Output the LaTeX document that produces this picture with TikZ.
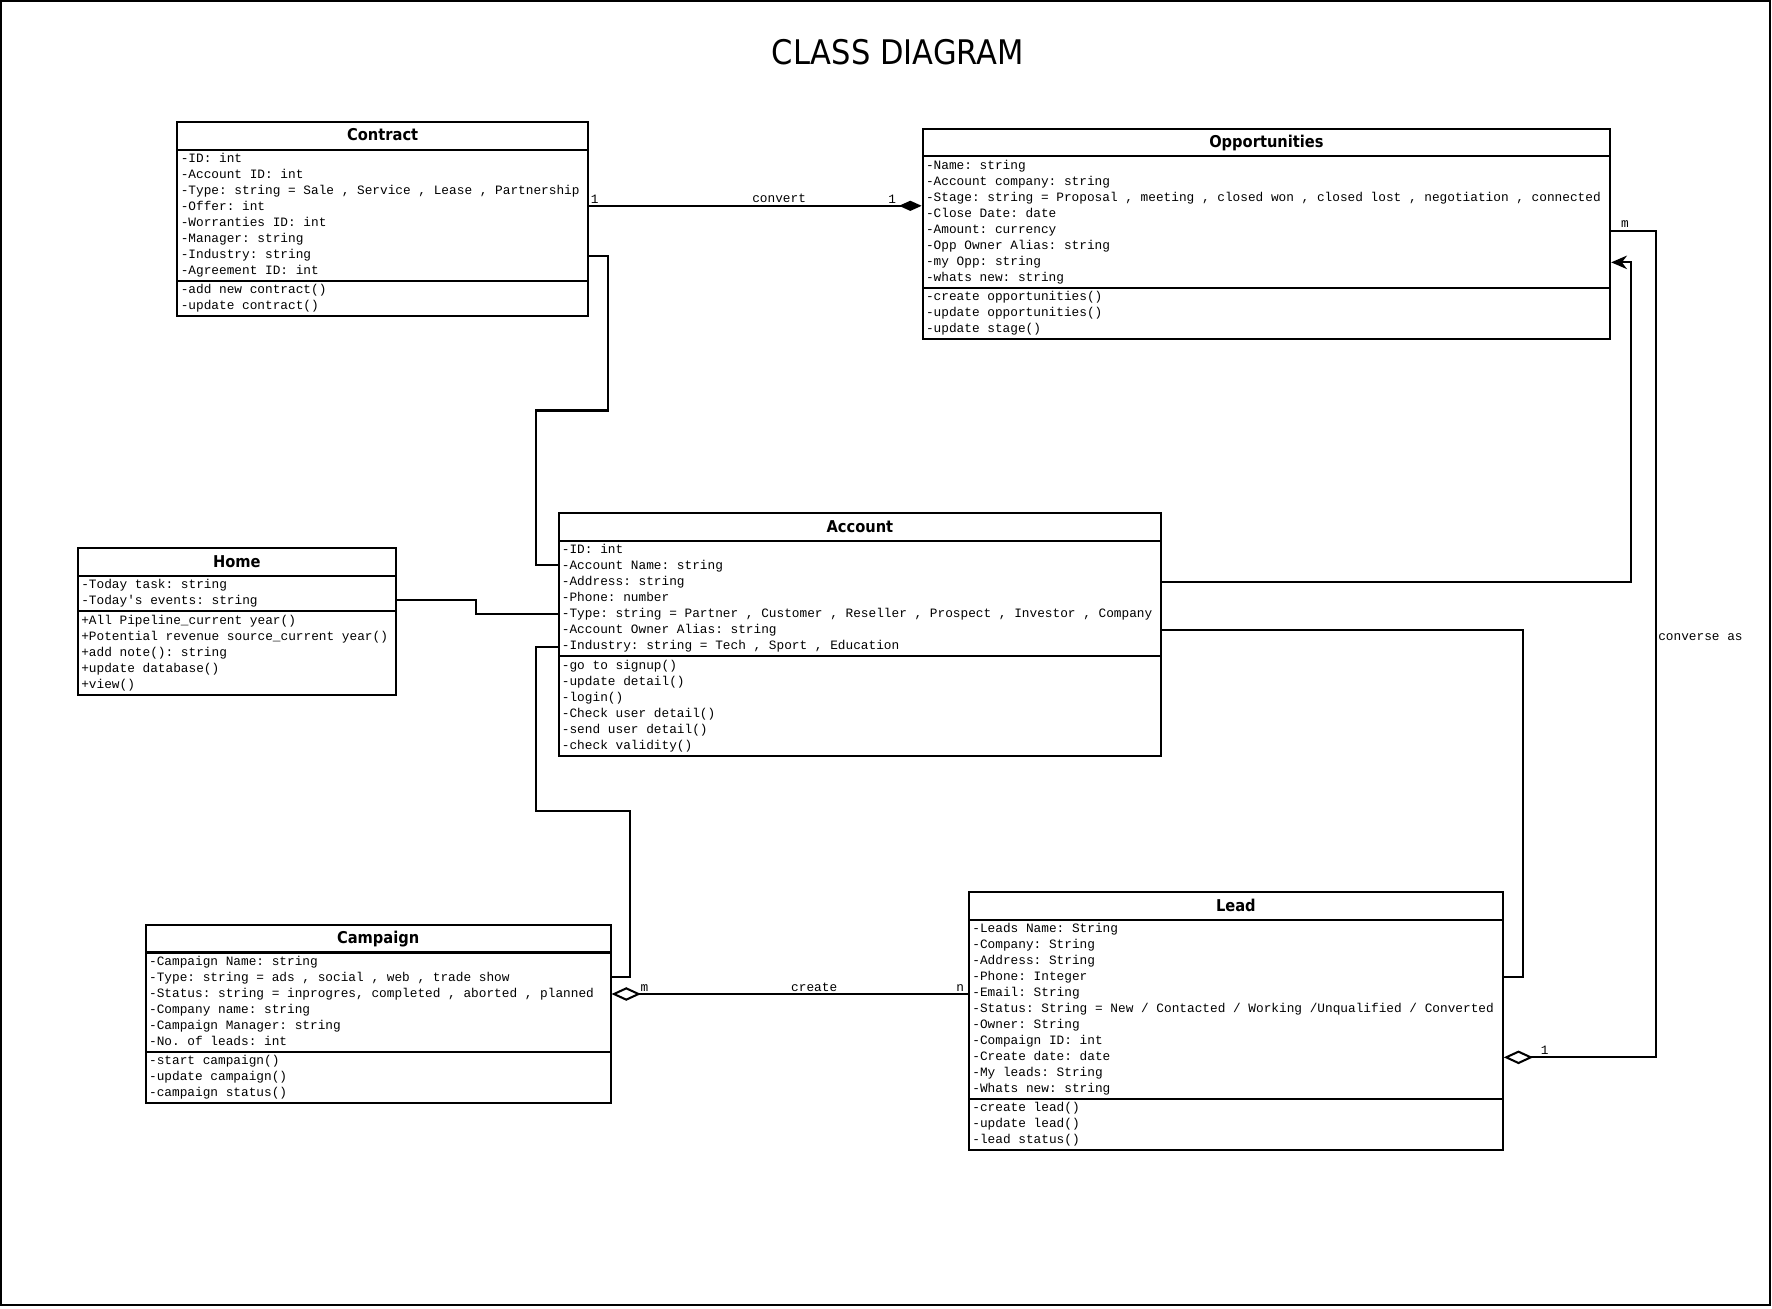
\documentclass[tikz,border=0pt]{standalone}
\usepackage{fontspec}
\setmainfont{DejaVu Sans Condensed}
\newfontfamily\attrfont{Liberation Mono}
\usetikzlibrary{shapes.multipart}
\usetikzlibrary{arrows.meta}

\newcommand{\clshead}[1]{\noindent\makebox[\linewidth]{\rule[-3.1pt]{0pt}{10.7pt}\rmfamily\bfseries\fontsize{7.2}{8}\selectfont #1}}
\newcommand{\mems}{\spaceskip=0.6em\xspaceskip=0.6em\relax\strut}

\tikzset{
  umlclass/.style={draw, line width=0.9pt, rectangle split, rectangle split parts=3,
    text width=#1, inner xsep=1.5pt, inner ysep=0.3pt, anchor=north west,
    font=\attrfont\fontsize{5.65}{7.07}\selectfont},
  conn/.style={line width=0.9pt},
  lbl/.style={font=\attrfont\fontsize{5.65}{7.07}\selectfont, inner sep=1pt},
}

\begin{document}
\begin{tikzpicture}[x=0.5pt, y=-0.5pt]
  \useasboundingbox (0,0) rectangle (1567,1157);
  \draw[line width=0.8pt] (1,1) rectangle (1565,1154);

  \node[font=\fontsize{15}{18}\selectfont] (title) at (794,46) {CLASS DIAGRAM};

  % classes
  \node[umlclass=178.5pt] (contract) at (156,107) {\clshead{Contract}
    \nodepart{two}\mems-ID: int\\
    -Account ID: int\\
    -Type: string = Sale , Service , Lease , Partnership\\
    -Offer: int\\
    -Worranties ID: int\\
    -Manager: string\\
    -Industry: string\\
    -Agreement ID: int\strut
    \nodepart{three}\mems-add new contract()\\
    -update contract()\strut};

  \node[umlclass=301pt] (opp) at (815,113) {\clshead{Opportunities}
    \nodepart{two}\mems-Name: string\\
    -Account company: string\\
    -Stage: string = Proposal , meeting , closed won , closed lost , negotiation , connected\\
    -Close Date: date\\
    -Amount: currency\\
    -Opp Owner Alias: string\\
    -my Opp: string\\
    -whats new: string\strut
    \nodepart{three}\mems-create opportunities()\\
    -update opportunities()\\
    -update stage()\strut};

  \node[umlclass=263.5pt] (account) at (493,453) {\clshead{Account}
    \nodepart{two}\mems-ID: int\\
    -Account Name: string\\
    -Address: string\\
    -Phone: number\\
    -Type: string = Partner , Customer , Reseller , Prospect , Investor , Company\\
    -Account Owner Alias: string\\
    -Industry: string = Tech , Sport , Education\strut
    \nodepart{three}\mems-go to signup()\\
    -update detail()\\
    -login()\\
    -Check user detail()\\
    -send user detail()\\
    -check validity()\strut};

  \node[umlclass=137.5pt] (home) at (68,484) {\clshead{Home}
    \nodepart{two}\mems-Today task: string\\
    -Today\textquotesingle s events: string\strut
    \nodepart{three}\mems+All Pipeline\_current year()\\
    +Potential revenue source\_current year()\\
    +add note(): string\\
    +update database()\\
    +view()\strut};

  \node[umlclass=202.5pt] (campaign) at (128,817) {\clshead{Campaign}
    \nodepart{two}\mems-Campaign Name: string\\
    -Type: string = ads , social , web , trade show\\
    -Status: string = inprogres, completed , aborted , planned\\
    -Company name: string\\
    -Campaign Manager: string\\
    -No. of leads: int\strut
    \nodepart{three}\mems-start campaign()\\
    -update campaign()\\
    -campaign status()\strut};

  \node[umlclass=233pt] (lead) at (856,788) {\clshead{Lead}
    \nodepart{two}\mems-Leads Name: String\\
    -Company: String\\
    -Address: String\\
    -Phone: Integer\\
    -Email: String\\
    -Status: String = New / Contacted / Working /Unqualified / Converted\\
    -Owner: String\\
    -Compaign ID: int\\
    -Create date: date\\
    -My leads: String\\
    -Whats new: string\strut
    \nodepart{three}\mems-create lead()\\
    -update lead()\\
    -lead status()\strut};

  % connectors
  \draw[conn, -{Diamond[length=10pt,width=4.5pt]}] (contract.east |- 0,182) -- (opp.west |- 0,182);
  \node[lbl, above] (convone) at (526,182) {1};
  \node[lbl, above] (convlbl) at (689,182) {convert};
  \node[lbl, above] (convtwo) at (789,182) {1};

  \draw[conn] (contract.east |- 0,226) -| (538,363) -| (474,500) -- (account.west |- 0,500);
  \draw[conn] (home.east |- 0,531) -| (421,543) -- (account.west |- 0,543);
  \draw[conn] (account.west |- 0,572) -| (474,717) -| (557,864) -- (campaign.east |- 0,864);
  \draw[conn] (account.east |- 0,557) -| (1347,864) -- (lead.east |- 0,864);
  \draw[conn, -{Stealth[length=7pt,width=6pt]}] (account.east |- 0,515) -| (1442,232) -- (opp.east |- 0,232);

  \draw[conn, {Diamond[open,length=13pt,width=6pt]}-] (campaign.east |- 0,879) -- (lead.west |- 0,879);
  \node[lbl, above] (crm) at (570,879) {m};
  \node[lbl, above] (crlbl) at (720,879) {create};
  \node[lbl, above] (crn) at (849,879) {n};

  \draw[conn, {Diamond[open,length=13pt,width=6pt]}-] (lead.east |- 0,935) -| (1464,204) -- (opp.east |- 0,204);
  \node[lbl, above] (cvone) at (1366,935) {1};
  \node[lbl, above] (cvm) at (1437,204) {m};
  \node[lbl, right] (cvlbl) at (1464,563) {converse as};
\end{tikzpicture}
\end{document}
